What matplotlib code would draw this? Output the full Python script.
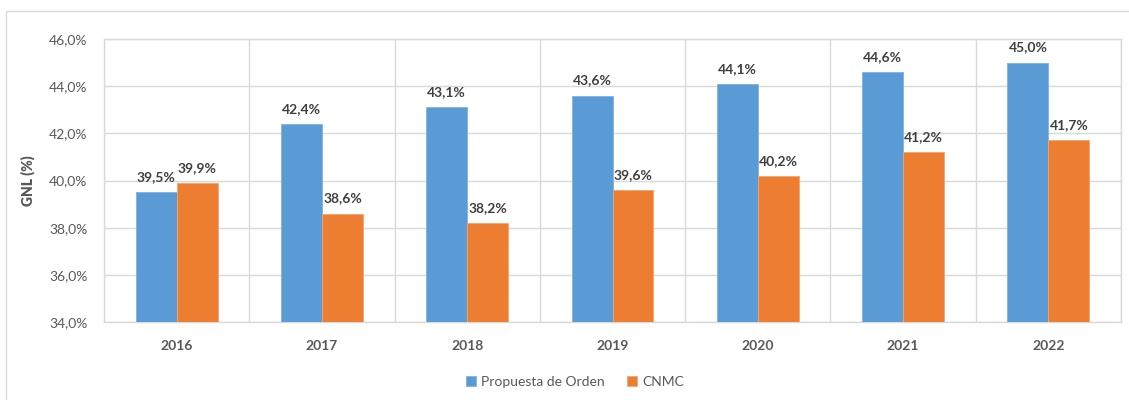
import matplotlib
matplotlib.use("Agg")
import matplotlib.pyplot as plt
from matplotlib.patches import Rectangle
from matplotlib.ticker import FuncFormatter, MultipleLocator
import numpy as np

years = ["2016", "2017", "2018", "2019", "2020", "2021", "2022"]
propuesta = [39.5, 42.4, 43.1, 43.6, 44.1, 44.6, 45.0]
cnmc = [39.9, 38.6, 38.2, 39.6, 40.2, 41.2, 41.7]
series_names = ["Propuesta de Orden", "CNMC"]

BLUE = "#5B9BD5"
ORANGE = "#ED7D31"
TEXT = "#595959"
GRID = "#D9D9D9"

plt.rcParams["font.family"] = ["Lato", "DejaVu Sans"]

fig = plt.figure(figsize=(11.29, 4.0), dpi=100)
fig.patches.append(Rectangle((6 / 1129, -0.1), 1.2, 1 - 11 / 400 + 0.1,
                             transform=fig.transFigure, fill=False,
                             edgecolor=GRID, linewidth=1.0))

ax = fig.add_axes([104 / 1129, 78 / 400, 1017 / 1129, 283 / 400])
x = np.arange(len(years))
w = 0.282
b1 = ax.bar(x - w / 2, [v - 34 for v in propuesta], w, bottom=34, color=BLUE,
            edgecolor="#7FB2E0", linewidth=0.6, label=series_names[0], zorder=3)
b2 = ax.bar(x + w / 2, [v - 34 for v in cnmc], w, bottom=34, color=ORANGE,
            edgecolor="#F4A470", linewidth=0.6, label=series_names[1], zorder=3)

def fmt(v):
    return f"{v:.1f}".replace(".", ",") + "%"

for xs, vals in ((x - w / 2, propuesta), (x + w / 2, cnmc)):
    for xi, v in zip(xs, vals):
        ax.annotate(fmt(v), (xi, v), xytext=(0, 6.5), textcoords="offset points",
                    ha="center", va="bottom", fontsize=10, fontweight="bold",
                    color="#404040")

ax.set_xlim(-0.5, len(years) - 0.5)
ax.set_ylim(34, 46)
ax.yaxis.set_major_locator(MultipleLocator(2))
ax.yaxis.set_major_formatter(FuncFormatter(lambda v, p: fmt(v)))
ax.set_xticks(x)
ax.set_xticklabels(years, fontweight="bold")
ax.set_xticks(np.arange(len(years) + 1) - 0.5, minor=True)
ax.tick_params(axis="x", which="both", length=0, pad=13, labelsize=10, labelcolor=TEXT)
ax.tick_params(axis="y", length=0, pad=12, labelsize=10, labelcolor=TEXT)
ax.grid(axis="y", which="major", color=GRID, linewidth=1.0, zorder=0)
ax.grid(axis="x", which="minor", color=GRID, linewidth=1.0, zorder=0)
ax.grid(axis="x", which="major", visible=False)
for s in ax.spines.values():
    s.set_color(GRID)
    s.set_linewidth(1.0)

ax.set_ylabel("GNL (%)", fontsize=10, fontweight="heavy", color=TEXT, labelpad=10)

leg = fig.legend(handles=[b1, b2], loc="center", bbox_to_anchor=(575 / 1129, 1 - 382 / 400),
                 ncol=2, frameon=False, fontsize=10, handlelength=0.7, handleheight=0.7,
                 handletextpad=0.4, columnspacing=1.6)
for t in leg.get_texts():
    t.set_color(TEXT)

fig.savefig("out.png", dpi=100)
